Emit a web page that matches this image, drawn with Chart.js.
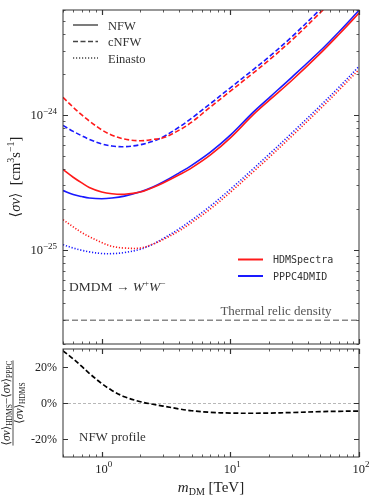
<!DOCTYPE html>
<html>
<head>
<meta charset="utf-8">
<script src="https://cdn.jsdelivr.net/npm/chart.js@4.4.1/dist/chart.umd.min.js"></script>
<style>
  html, body { margin: 0; padding: 0; background: #fff; }
  #wrap { position: relative; width: 374px; height: 497px; }
  canvas { position: absolute; left: 0; }
  #top { top: 0; }
  #bot { top: 346px; }
</style>
</head>
<body>
<div id="wrap">
  <canvas id="top" width="374" height="346"></canvas>
  <canvas id="bot" width="374" height="151"></canvas>
</div>
<script>
// DM mass grid (TeV)
const masses = [0.5, 0.6, 0.7, 0.8, 1, 1.2, 1.5, 2, 2.5, 3, 4, 5, 7, 10, 15, 20, 30, 50, 70, 100];

// <sigma v> upper limits, cm^3 s^-1
const hdmsNFW  = [3.94e-25, 3.45e-25, 3.13e-25, 2.90e-25, 2.68e-25, 2.60e-25, 2.58e-25, 2.68e-25, 2.90e-25, 3.13e-25, 3.60e-25, 4.05e-25, 5.05e-25, 6.76e-25, 1.00e-24, 1.28e-24, 1.80e-24, 2.86e-24, 3.97e-24, 5.69e-24];
const pppcNFW  = [2.75e-25, 2.57e-25, 2.48e-25, 2.42e-25, 2.39e-25, 2.42e-25, 2.50e-25, 2.69e-25, 2.92e-25, 3.18e-25, 3.72e-25, 4.23e-25, 5.30e-25, 7.08e-25, 1.045e-24, 1.34e-24, 1.90e-24, 2.99e-24, 4.14e-24, 5.96e-24];
const hdmsCNFW = [1.35e-24, 1.14e-24, 1.00e-24, 9.02e-25, 7.75e-25, 7.08e-25, 6.62e-25, 6.43e-25, 6.58e-25, 6.76e-25, 7.71e-25, 8.83e-25, 1.146e-24, 1.50e-24, 2.04e-24, 2.55e-24, 3.58e-24, 5.73e-24, 7.89e-24, 1.11e-23];
const pppcCNFW = [8.36e-25, 7.55e-25, 7.00e-25, 6.59e-25, 6.10e-25, 5.88e-25, 5.81e-25, 6.01e-25, 6.38e-25, 6.87e-25, 8.13e-25, 9.46e-25, 1.213e-24, 1.59e-24, 2.16e-24, 2.70e-24, 3.79e-24, 6.07e-24, 8.36e-24, 1.18e-23];
const hdmsEin  = [1.67e-25, 1.48e-25, 1.34e-25, 1.25e-25, 1.13e-25, 1.06e-25, 1.03e-25, 1.03e-25, 1.10e-25, 1.19e-25, 1.38e-25, 1.59e-25, 2.01e-25, 2.67e-25, 3.77e-25, 4.84e-25, 6.95e-25, 1.11e-24, 1.53e-24, 2.17e-24];
const pppcEin  = [1.09e-25, 1.03e-25, 9.91e-26, 9.64e-26, 9.38e-26, 9.36e-26, 9.53e-26, 1.01e-25, 1.10e-25, 1.21e-25, 1.43e-25, 1.66e-25, 2.11e-25, 2.81e-25, 3.97e-25, 5.11e-25, 7.33e-25, 1.17e-24, 1.61e-24, 2.29e-24];
const thermalRelic = 3e-26;

// relative difference (HDMS - PPPC) / HDMS, NFW, in %
const relDiff = [29, 24.5, 20.3, 16.5, 10.8, 7.0, 3.5, 0.7, -0.7, -1.7, -3.3, -4.3, -5.2, -5.6, -5.7, -5.6, -5.3, -4.8, -4.6, -4.5];

// axis ticks
const xLabelDecades = [0, 1, 2];
const yLabelDecades = [-25, -24];
const relTicks = [-20, 0, 20];

const SERIF = '"Liberation Serif", "DejaVu Serif", serif';
const MONO = '"DejaVu Sans Mono", monospace';
const AXIS = "#333";
const RED = "#ff1a1a";
const BLUE = "#1a1aff";

function pts(ys) {
  return masses.map((m, i) => ({ x: m, y: ys[i] }));
}

function line(data, color, dash) {
  return {
    data: pts(data),
    borderColor: color,
    borderWidth: 1.6,
    borderDash: dash,
    pointRadius: 0,
    tension: 0.35,
    fill: false,
  };
}

// --- rich text helpers (sub/superscripts) ---
function setFont(ctx, p) {
  ctx.font = `${p.it ? "italic " : ""}${p.s}px ${p.f || SERIF}`;
}
function richWidth(ctx, parts) {
  let w = 0;
  parts.forEach(p => { setFont(ctx, p); w += ctx.measureText(p.t).width; });
  return w;
}
function drawRich(ctx, parts, x, y, align, color) {
  const w = richWidth(ctx, parts);
  let cx = align === "center" ? x - w / 2 : align === "right" ? x - w : x;
  ctx.fillStyle = color || "#222";
  ctx.textBaseline = "alphabetic";
  ctx.textAlign = "left";
  parts.forEach(p => {
    setFont(ctx, p);
    ctx.fillText(p.t, cx, y + (p.dy || 0));
    cx += ctx.measureText(p.t).width;
  });
}
function pow10(exp, size) {
  return [{ t: "10", s: size }, { t: exp, s: size * 0.72, dy: -size * 0.45 }];
}

// --- frame and inward ticks on all four sides ---
function drawFrame(chart, yTicks) {
  const ctx = chart.ctx;
  const { left, right, top, bottom } = chart.chartArea;
  const xs = chart.scales.x, ys = chart.scales.y;
  ctx.save();
  ctx.strokeStyle = AXIS;
  ctx.lineWidth = 1;
  ctx.setLineDash([]);
  ctx.strokeRect(left, top, right - left, bottom - top);
  for (let d = -1; d <= 2; d++) {
    for (let m = 1; m <= 9; m++) {
      const v = m * Math.pow(10, d);
      if (v < xs.min || v > xs.max) continue;
      const px = Math.round(xs.getPixelForValue(v)) + 0.5;
      const len = m === 1 ? 5 : 2.5;
      ctx.lineWidth = m === 1 ? 1.2 : 0.8;
      ctx.beginPath();
      ctx.moveTo(px, bottom); ctx.lineTo(px, bottom - len);
      ctx.moveTo(px, top); ctx.lineTo(px, top + len);
      ctx.stroke();
    }
  }
  yTicks.forEach(t => {
    const py = Math.round(ys.getPixelForValue(t.v)) + 0.5;
    ctx.lineWidth = t.major ? 1.2 : 0.8;
    const len = t.major ? 5 : 2.5;
    ctx.beginPath();
    ctx.moveTo(left, py); ctx.lineTo(left + len, py);
    ctx.moveTo(right, py); ctx.lineTo(right - len, py);
    ctx.stroke();
  });
  ctx.restore();
}

const topDecor = {
  id: "topDecor",
  afterDatasetsDraw(chart) {
    const ctx = chart.ctx;
    const { top, bottom } = chart.chartArea;
    const ys = chart.scales.y;
    const yt = [];
    for (let d = -27; d <= -24; d++) {
      for (let m = 1; m <= 9; m++) {
        const v = m * Math.pow(10, d);
        if (v >= ys.min && v <= ys.max) yt.push({ v, major: m === 1 });
      }
    }
    drawFrame(chart, yt);

    // y tick labels
    yLabelDecades.forEach(d => {
      const py = ys.getPixelForValue(Math.pow(10, d));
      drawRich(ctx, pow10("\u2212" + Math.abs(d), 12.5), 57, py + 4.5, "right");
    });

    // y title
    ctx.save();
    ctx.translate(15, (top + bottom) / 2);
    ctx.rotate(-Math.PI / 2);
    drawRich(ctx, [
      { t: "\u27E8", s: 14.5 }, { t: "\u03C3v", s: 14.5, it: true }, { t: "\u27E9  [cm", s: 14.5 },
      { t: "3", s: 10, dy: -6 }, { t: "s", s: 14.5 }, { t: "\u22121", s: 10, dy: -6 }, { t: "]", s: 14.5 },
    ], 0, 5, "center");
    ctx.restore();

    // line style legend
    ctx.save();
    ctx.strokeStyle = "#444";
    ctx.lineWidth = 1.4;
    [[[], "NFW", 25], [[5, 2.5], "cNFW", 41.5], [[1.2, 1.8], "Einasto", 58]].forEach(([dash, label, y]) => {
      ctx.setLineDash(dash);
      ctx.beginPath();
      ctx.moveTo(73, y); ctx.lineTo(98, y);
      ctx.stroke();
      drawRich(ctx, [{ t: label, s: 12.5 }], 108, y + 4.5, "left", "#333");
    });

    // colour legend
    ctx.setLineDash([]);
    ctx.lineWidth = 2;
    [[RED, "HDMSpectra", 259.5], [BLUE, "PPPC4DMID", 276]].forEach(([c, label, y]) => {
      ctx.strokeStyle = c;
      ctx.beginPath();
      ctx.moveTo(238, y); ctx.lineTo(263, y);
      ctx.stroke();
      drawRich(ctx, [{ t: label, s: 10, f: MONO }], 273, y + 3.5, "left", "#333");
    });
    ctx.restore();

    // annotations
    drawRich(ctx, [
      { t: "DMDM \u2192 ", s: 13.5 }, { t: "W", s: 13.5, it: true }, { t: "+", s: 9, dy: -5.5 },
      { t: "W", s: 13.5, it: true }, { t: "\u2212", s: 9, dy: -5.5 },
    ], 69, 291, "left", "#333");
    drawRich(ctx, [{ t: "Thermal relic density", s: 13 }], 276, 315, "center", "#555");
  },
};

const botDecor = {
  id: "botDecor",
  beforeDatasetsDraw(chart) {
    const ctx = chart.ctx;
    const { left, right } = chart.chartArea;
    const py = Math.round(chart.scales.y.getPixelForValue(0)) + 0.5;
    ctx.save();
    ctx.strokeStyle = "#999";
    ctx.lineWidth = 0.7;
    ctx.setLineDash([3, 2]);
    ctx.beginPath();
    ctx.moveTo(left, py); ctx.lineTo(right, py);
    ctx.stroke();
    ctx.restore();
  },
  afterDatasetsDraw(chart) {
    const ctx = chart.ctx;
    const { left, right, top, bottom } = chart.chartArea;
    const xs = chart.scales.x, ys = chart.scales.y;
    drawFrame(chart, relTicks.map(v => ({ v, major: true })));

    relTicks.forEach(v => {
      const py = ys.getPixelForValue(v);
      drawRich(ctx, [{ t: v + "%", s: 12 }], 57, py + 4, "right");
    });
    xLabelDecades.forEach(d => {
      const px = xs.getPixelForValue(Math.pow(10, d));
      drawRich(ctx, pow10(String(d), 12.5), px + 2, bottom + 16, "center");
    });
    drawRich(ctx, [
      { t: "m", s: 15, it: true }, { t: "DM", s: 10, dy: 3 }, { t: " [TeV]", s: 15 },
    ], (left + right) / 2, bottom + 35, "center");
    drawRich(ctx, [{ t: "NFW profile", s: 13 }], 79, top + 92, "left", "#333");

    // y title: fraction
    ctx.save();
    ctx.translate(13, (top + bottom) / 2);
    ctx.rotate(-Math.PI / 2);
    const sv = [{ t: "\u27E8", s: 11.5 }, { t: "\u03C3v", s: 11.5, it: true }, { t: "\u27E9", s: 11.5 }];
    const num = [...sv, { t: "HDMS", s: 7.5, dy: 2 }, { t: "\u2212", s: 11.5 }, ...sv, { t: "PPPC", s: 7.5, dy: 2 }];
    const den = [...sv, { t: "HDMS", s: 7.5, dy: 2 }];
    drawRich(ctx, num, 0, -3, "center", "#222");
    drawRich(ctx, den, 0, 10, "center", "#222");
    const w = richWidth(ctx, num);
    ctx.strokeStyle = "#222";
    ctx.lineWidth = 0.8;
    ctx.beginPath();
    ctx.moveTo(-w / 2, 0); ctx.lineTo(w / 2, 0);
    ctx.stroke();
    ctx.restore();
  },
};

const hiddenTicks = { display: false };

new Chart(document.getElementById("top"), {
  type: "line",
  data: {
    datasets: [
      line(hdmsNFW, RED, []),
      line(pppcNFW, BLUE, []),
      line(hdmsCNFW, RED, [5, 2.5]),
      line(pppcCNFW, BLUE, [5, 2.5]),
      line(hdmsEin, RED, [1.2, 1.8]),
      line(pppcEin, BLUE, [1.2, 1.8]),
      {
        data: [{ x: masses[0], y: thermalRelic }, { x: masses[masses.length - 1], y: thermalRelic }],
        borderColor: "#888",
        borderWidth: 1.3,
        borderDash: [6, 3],
        pointRadius: 0,
      },
    ],
  },
  options: {
    responsive: false,
    animation: false,
    layout: { padding: { left: 0, right: 15, top: 10, bottom: 2 } },
    plugins: { legend: { display: false }, tooltip: { enabled: false } },
    scales: {
      x: { type: "logarithmic", min: 0.5, max: 100, display: false },
      y: {
        type: "logarithmic",
        min: 2e-26,
        max: 6e-24,
        ticks: hiddenTicks,
        grid: { display: false },
        border: { display: false },
        afterFit: s => { s.width = 63; },
      },
    },
  },
  plugins: [topDecor],
});

new Chart(document.getElementById("bot"), {
  type: "line",
  data: {
    datasets: [
      {
        data: pts(relDiff),
        borderColor: "#000",
        borderWidth: 1.7,
        borderDash: [5, 2.5],
        pointRadius: 0,
        tension: 0.35,
      },
    ],
  },
  options: {
    responsive: false,
    animation: false,
    layout: { padding: { left: 0, right: 15, top: 3, bottom: 0 } },
    plugins: { legend: { display: false }, tooltip: { enabled: false } },
    scales: {
      x: {
        type: "logarithmic",
        min: 0.5,
        max: 100,
        ticks: hiddenTicks,
        grid: { display: false },
        border: { display: false },
        afterFit: s => { s.height = 40; },
      },
      y: {
        type: "linear",
        min: -30,
        max: 30,
        ticks: hiddenTicks,
        grid: { display: false },
        border: { display: false },
        afterFit: s => { s.width = 63; },
      },
    },
  },
  plugins: [botDecor],
});
</script>
</body>
</html>
